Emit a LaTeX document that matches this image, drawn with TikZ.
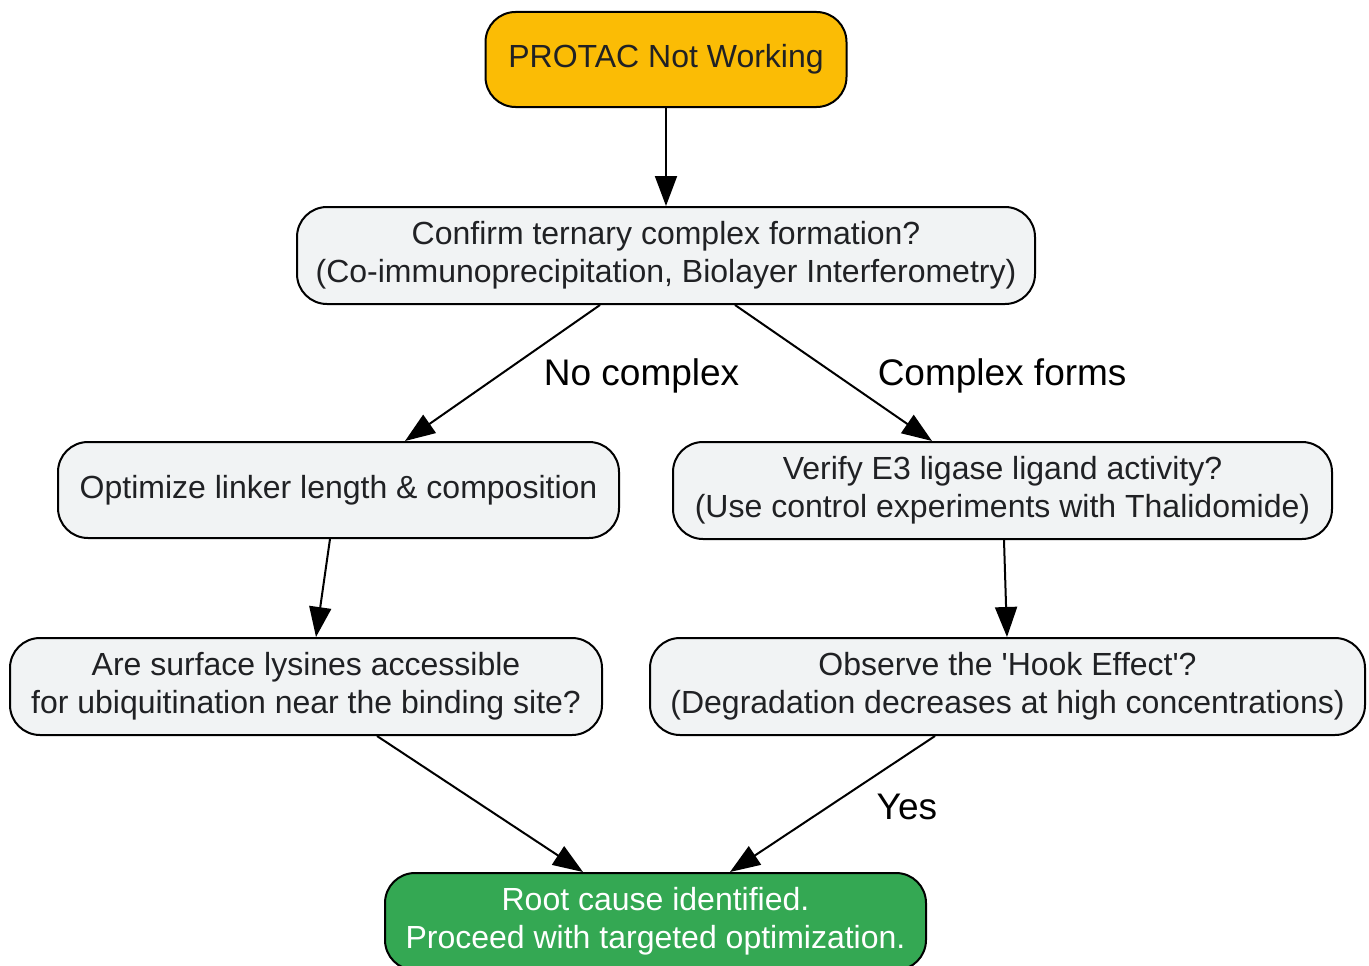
\documentclass[tikz,border=0pt]{standalone}
\usepackage{fontspec}
\setmainfont{Liberation Sans}
\usetikzlibrary{positioning}
\usetikzlibrary{arrows.meta}
\definecolor{startfill}{HTML}{FBBC05}
\definecolor{stepfill}{HTML}{F1F3F4}
\definecolor{endfill}{HTML}{34A853}
\definecolor{darktext}{HTML}{202124}

\begin{document}
\begin{tikzpicture}[x=1pt,y=-1pt, line width=2pt,
	>={Triangle[length=30pt,width=22pt]},
	box/.style={rectangle,rounded corners=30pt,draw,fill=stepfill,
		text=darktext,align=center,inner sep=0pt,
		font=\fontsize{32}{38}\selectfont},
	edge label/.style={font=\fontsize{37}{40}\selectfont,text=black,anchor=west,pos=0.52}]
	\useasboundingbox (0,0) rectangle (1369,966);
	\node[box,fill=startfill,minimum width=361pt,minimum height=95pt] (start) at (666,59.5) {PROTAC Not Working};
	\node[box,minimum width=738pt,minimum height=97pt] (ternary) at (666,255.5) {Confirm ternary complex formation?\\(Co-immunoprecipitation, Biolayer Interferometry)};
	\node[box,minimum width=561pt,minimum height=96pt] (linker) at (338.5,490) {Optimize linker length \& composition};
	\node[box,minimum width=659pt,minimum height=97pt] (ligand) at (1002.5,490.5) {Verify E3 ligase ligand activity?\\(Use control experiments with Thalidomide)};
	\node[box,minimum width=592pt,minimum height=97pt] (lysine) at (306,686.5) {Are surface lysines accessible\\for ubiquitination near the binding site?};
	\node[box,minimum width=715pt,minimum height=97pt] (hook) at (1007.5,686.5) {Observe the \textquotesingle Hook Effect\textquotesingle?\\(Degradation decreases at high concentrations)};
	\node[box,fill=endfill,text=white,minimum width=541pt,minimum height=97pt] (cause) at (655.5,921.5) {Root cause identified.\\Proceed with targeted optimization.};

	\draw[->] (start) -- (ternary);
	\draw[->] ([xshift=-66pt]ternary.south) -- node[edge label,xshift=41pt] {No complex} ([xshift=66.5pt]linker.north);
	\draw[->] ([xshift=69pt]ternary.south) -- node[edge label,xshift=36pt] {Complex forms} ([xshift=-70.5pt]ligand.north);
	\draw[->] ([xshift=-8.5pt]linker.south) -- ([xshift=10pt]lysine.north);
	\draw[->] ([xshift=1.5pt]ligand.south) -- ([xshift=-0.5pt]hook.north);
	\draw[->] ([xshift=71pt]lysine.south) -- ([xshift=-72.5pt]cause.north);
	\draw[->] ([xshift=-72.5pt]hook.south) -- node[edge label,xshift=44pt] {Yes} ([xshift=74.5pt]cause.north);
\end{tikzpicture}
\end{document}
